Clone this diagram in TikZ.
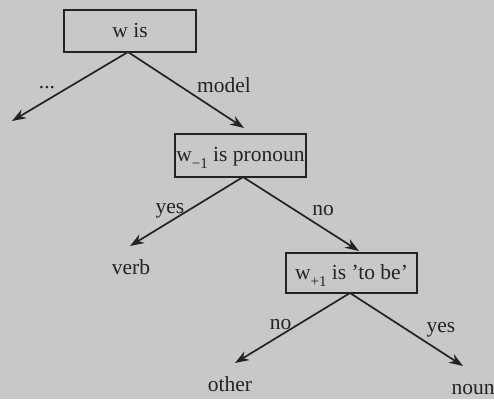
\documentclass[tikz,border=0pt]{standalone}
\usepackage{fontspec}
\setmainfont{Liberation Serif}
\usetikzlibrary{arrows.meta}
\definecolor{bg}{RGB}{200,200,198}
\definecolor{ink}{RGB}{35,35,35}
\newcommand{\subm}[1]{\raisebox{-0.75ex}{\fontsize{15}{15}\selectfont #1}}
\tikzset{
  box/.style={draw=ink, line width=1.7pt, rectangle, inner sep=0pt, text=ink,
    text height=16pt, text depth=4pt},
  lbl/.style={anchor=base, inner sep=0pt, text=ink},
  arr/.style={draw=ink, line width=1.7pt, -{Stealth[length=14pt,width=10pt]}}
}
\begin{document}
\begin{tikzpicture}[x=1pt,y=-1pt, font=\fontsize{21.5}{24}\selectfont]
\fill[bg] (0,0) rectangle (494,399);
\useasboundingbox (0,0) rectangle (494,399);
% boxes
\node[box, minimum width=132pt, minimum height=42pt] (b1) at (130,31) {w is};
\node[box, minimum width=131pt, minimum height=43pt] (b2) at (240.5,155.5) {w\subm{−1} is pronoun};
\node[box, minimum width=131pt, minimum height=40pt] (b3) at (351.5,273) {w\subm{+1} is 'to be'};
% arrow tips
\coordinate (t1) at (12,121);
\coordinate (t2) at (244,128);
\coordinate (t3) at (130,246);
\coordinate (t4) at (359,251);
\coordinate (t5) at (235,363);
\coordinate (t6) at (463,366);
\coordinate (s1) at (128,52);
\coordinate (s2) at (243,177);
\coordinate (s3) at (350,293);
\draw[arr] (s1) -- (t1);
\draw[arr] (s1) -- (t2);
\draw[arr] (s2) -- (t3);
\draw[arr] (s2) -- (t4);
\draw[arr] (s3) -- (t5);
\draw[arr] (s3) -- (t6);
% edge labels
\node[lbl] (l1) at (47,88) {...};
\node[lbl] (l2) at (224,92) {model};
\node[lbl] (l3) at (170,213) {yes};
\node[lbl] (l4) at (323,215) {no};
\node[lbl] (l5) at (280.5,329) {no};
\node[lbl] (l6) at (441,332) {yes};
% leaves
\node[lbl] (verb) at (131,274) {verb};
\node[lbl] (other) at (230,391) {other};
\node[lbl] (noun) at (473,394) {noun};
\end{tikzpicture}
\end{document}
